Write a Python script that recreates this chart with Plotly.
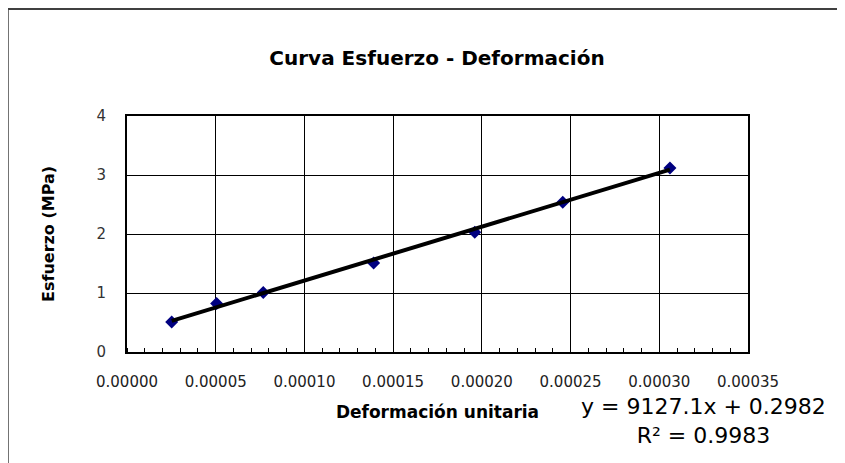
import plotly.graph_objects as go

# Data
strain = [0.0000252, 0.0000505, 0.0000768, 0.000139, 0.000196, 0.0002456, 0.000306]
stress = [0.51, 0.82, 1.01, 1.51, 2.03, 2.54, 3.12]

# Trendline coefficients shown on the chart
slope = 9127.1
intercept = 0.2982
r2 = 0.9983

x_ticks = [0.0, 0.00005, 0.0001, 0.00015, 0.0002, 0.00025, 0.0003, 0.00035]
x_tick_labels = ["0.00000", "0.00005", "0.00010", "0.00015", "0.00020", "0.00025", "0.00030", "0.00035"]
y_ticks = [0, 1, 2, 3, 4]

# The page body has an 8px margin; lay out in page pixels and subtract it.
OFF = 8
PW, PH = 845, 463
W, H = PW - OFF, PH - OFF
L, R, T, B = 127 - OFF, 845 - 748, 116 - OFF, 463 - 352
pw, ph = W - L - R, H - T - B

def px(xp):  # page pixel x -> paper
    return (xp - OFF - L) / pw

def py(yp):  # page pixel y -> paper
    return (H - B - (yp - OFF)) / ph

fig = go.Figure()
fig.add_trace(go.Scatter(
    x=strain, y=stress, mode="markers",
    marker=dict(symbol="diamond", size=10, color="#000080"),
    showlegend=False, hoverinfo="x+y"))

tx = [min(strain), max(strain)]
ty = [slope * v + intercept for v in tx]
fig.add_trace(go.Scatter(
    x=tx, y=ty, mode="lines",
    line=dict(color="black", width=4),
    showlegend=False, hoverinfo="skip"))

fig.update_layout(
    width=W, height=H,
    margin=dict(l=L, r=R, t=T, b=B),
    paper_bgcolor="white", plot_bgcolor="white",
    title=dict(text="<b>Curva Esfuerzo - Deformación</b>",
               font=dict(family="DejaVu Sans", size=20, color="black"),
               x=px(437), xref="paper", xanchor="center",
               y=1 - (58 - OFF) / H, yref="container", yanchor="middle"),
    font=dict(family="DejaVu Sans", color="black"),
)

fig.update_xaxes(
    range=[0, 0.00035], tickvals=x_ticks, ticktext=x_tick_labels,
    showgrid=True, gridcolor="black", gridwidth=1,
    showline=True, linecolor="black", linewidth=2, mirror=True,
    ticks="", ticklabelstandoff=15,
    tickfont=dict(family="DejaVu Sans", size=15, color="#222"),
    minor=dict(dtick=0.00001, tick0=0, ticks="inside", ticklen=4,
               tickcolor="black", tickwidth=1, showgrid=False),
    zeroline=False, automargin=False,
    title=dict(text="<b>Deformación unitaria</b>",
               font=dict(family="DejaVu Sans", size=17, color="black"),
               standoff=16),
)
fig.update_yaxes(
    range=[0, 4], tickvals=y_ticks,
    showgrid=True, gridcolor="black", gridwidth=1,
    showline=True, linecolor="black", linewidth=2, mirror=True,
    ticks="", ticklabelstandoff=16,
    tickfont=dict(family="DejaVu Sans", size=15, color="#333"),
    zeroline=False, automargin=False,
    title=dict(text="<b>Esfuerzo (MPa)</b>",
               font=dict(family="DejaVu Sans", size=16, color="black"),
               standoff=38),
)

fig.add_annotation(
    xref="paper", yref="paper", x=px(703), y=py(421),
    text=f"y = {slope}x + {intercept}<br>R² = {r2}",
    showarrow=False, align="center", xanchor="center", yanchor="middle",
    font=dict(family="DejaVu Sans", size=22, color="black"))

# outer chart border (top and left)
fig.add_shape(type="line", xref="paper", yref="paper",
              x0=px(8), x1=px(845), y0=py(9), y1=py(9),
              line=dict(color="black", width=1.5))
fig.add_shape(type="line", xref="paper", yref="paper",
              x0=px(8), x1=px(8), y0=py(9), y1=py(463),
              line=dict(color="#444", width=1.5))

fig.write_html("out.html")
